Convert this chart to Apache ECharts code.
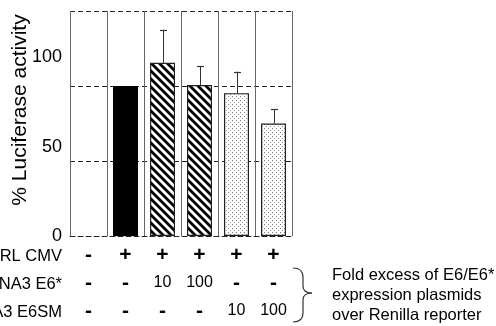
<!DOCTYPE html>
<html><head><meta charset="utf-8">
<script src="https://cdn.jsdelivr.net/npm/echarts@6/dist/echarts.min.js"></script>
<style>html,body{margin:0;padding:0;background:#fff}#c{width:496px;height:326px}</style>
</head><body><div id="c"></div>
<script>
// ---- data ----
const categories = ['c1', 'c2', 'c3', 'c4', 'c5', 'c6'];
const values = [null, 84, 97, 84.5, 80, 63];
const errorTops = [null, null, 115.5, 95, 92, 71];
const rowNames = ['pRL CMV', 'pcDNA3 E6*', 'pcDNA3 E6SM'];
const rowRL = ['-', '+', '+', '+', '+', '+'];
const rowE6 = ['-', '-', '10', '100', '-', '-'];
const rowE6SM = ['-', '-', '-', '-', '10', '100'];
const fills = ['none', 'solid', 'hatch', 'hatch', 'dots', 'dots'];
const yTicks = [0, 50, 100];
const noteLines = ['Fold excess of E6/E6*', 'expression plasmids', 'over Renilla reporter'];

function hatchPattern() {
  const c = document.createElement('canvas');
  c.width = 8; c.height = 8;
  const g = c.getContext('2d');
  g.fillStyle = '#fff'; g.fillRect(0, 0, 8, 8);
  g.strokeStyle = '#000'; g.lineWidth = 2.8;
  g.beginPath();
  g.moveTo(-2, -2); g.lineTo(10, 10);
  g.moveTo(-10, -2); g.lineTo(2, 10);
  g.moveTo(6, -2); g.lineTo(18, 10);
  g.stroke();
  return c;
}
function dotPattern() {
  const c = document.createElement('canvas');
  c.width = 4; c.height = 4;
  const g = c.getContext('2d');
  g.fillStyle = '#fff'; g.fillRect(0, 0, 4, 4);
  g.fillStyle = '#777';
  g.fillRect(0, 0, 1, 1);
  g.fillStyle = '#999';
  g.fillRect(2, 2, 1, 1);
  return c;
}
const hatch = { image: hatchPattern(), repeat: 'repeat' };
const dots = { image: dotPattern(), repeat: 'repeat' };

function fillFor(k) {
  if (k === 'solid') return '#000';
  if (k === 'hatch') return hatch;
  if (k === 'dots') return dots;
  return 'transparent';
}

const chart = echarts.init(document.getElementById('c'));
const FONT = 'Liberation Sans, Arial, Helvetica, sans-serif';
const braceStyle = { stroke: '#333', lineWidth: 1.2, fill: null };

chart.setOption({
  animation: false,
  grid: { left: 70, right: 204, top: 11, bottom: 90 },
  xAxis: {
    type: 'category',
    data: categories,
    axisLine: { show: true, lineStyle: { color: '#222', width: 1, type: [5, 3] } },
    axisTick: { show: false },
    splitLine: { show: true, lineStyle: { color: '#666', width: 1, type: 'solid' } },
    axisLabel: {
      margin: 5,
      interval: 0,
      formatter: function (v, i) {
        const f = s => (s === '+' || s === '-') ? '{b|' + s + '}' : '{n|' + s + '}';
        return f(rowRL[i]) + '\n' + f(rowE6[i]) + '\n' + f(rowE6SM[i]);
      },
      rich: {
        b: { fontFamily: FONT, fontSize: 21, fontWeight: 'bold', color: '#000', lineHeight: 28 },
        n: { fontFamily: FONT, fontSize: 16, color: '#000', lineHeight: 28 }
      }
    }
  },
  yAxis: [{
    type: 'value', min: 0, max: 126, interval: 50,
    axisLine: { show: false }, axisTick: { show: false },
    splitLine: { show: false },
    axisLabel: {
      margin: 8, fontFamily: FONT, fontSize: 18, color: '#000',
      formatter: v => yTicks.indexOf(v) >= 0 ? String(v) : ''
    }
  }, {
    type: 'value', min: 0, max: 126, interval: 42,
    axisLine: { show: false }, axisTick: { show: false }, axisLabel: { show: false },
    splitLine: { show: true, lineStyle: { color: '#222', width: 1, type: [5, 3] } }
  }],
  series: [{
    type: 'bar',
    barWidth: 25,
    data: values.map((v, i) => ({
      value: v,
      itemStyle: { color: fillFor(fills[i]), borderColor: '#222', borderWidth: fills[i] === 'solid' ? 0 : 1.2 }
    })),
    z: 3
  }, {
    type: 'custom',
    z: 4,
    data: values.map((v, i) => [i, v, errorTops[i]]),
    renderItem: function (params, api) {
      if (api.value(2) == null || isNaN(api.value(2))) return null;
      const p0 = api.coord([api.value(0), api.value(1)]);
      const p1 = api.coord([api.value(0), api.value(2)]);
      const x = Math.round(p0[0]) + 0.5;
      return {
        type: 'group',
        children: [
          { type: 'line', shape: { x1: x, y1: p0[1], x2: x, y2: p1[1] }, style: { stroke: '#333', lineWidth: 1 } },
          { type: 'line', shape: { x1: x - 3.5, y1: Math.round(p1[1]) + 0.5, x2: x + 3.5, y2: Math.round(p1[1]) + 0.5 }, style: { stroke: '#333', lineWidth: 1.2 } }
        ]
      };
    }
  }],
  graphic: [
    { type: 'text', x: 20, y: 110, rotation: Math.PI / 2,
      style: { text: '% Luciferase activity', font: '21px ' + FONT, fill: '#000', textAlign: 'center', textVerticalAlign: 'middle' } },
    ...rowNames.map((t, i) => ({
      type: 'text', x: 62, y: 256 + i * 28,
      style: { text: t, font: '16.5px ' + FONT, fill: '#000', textAlign: 'right', textVerticalAlign: 'middle' }
    })),
    ...noteLines.map((t, i) => ({
      type: 'text', x: 332, y: 275 + i * 20,
      style: { text: t, font: '16.5px ' + FONT, fill: '#000', textAlign: 'left', textVerticalAlign: 'middle' }
    })),
    { type: 'bezierCurve', shape: { x1: 293, y1: 268, x2: 303, y2: 277, cpx1: 300, cpy1: 268, cpx2: 303, cpy2: 271 }, style: braceStyle },
    { type: 'line', shape: { x1: 303, y1: 277, x2: 303, y2: 286 }, style: braceStyle },
    { type: 'bezierCurve', shape: { x1: 303, y1: 286, x2: 312, y2: 293, cpx1: 303, cpy1: 291, cpx2: 306, cpy2: 293 }, style: braceStyle },
    { type: 'bezierCurve', shape: { x1: 312, y1: 293, x2: 303, y2: 300, cpx1: 306, cpy1: 293, cpx2: 303, cpy2: 295 }, style: braceStyle },
    { type: 'line', shape: { x1: 303, y1: 300, x2: 303, y2: 313 }, style: braceStyle },
    { type: 'bezierCurve', shape: { x1: 303, y1: 313, x2: 293, y2: 322, cpx1: 303, cpy1: 319, cpx2: 300, cpy2: 322 }, style: braceStyle }
  ]
});
</script></body></html>
